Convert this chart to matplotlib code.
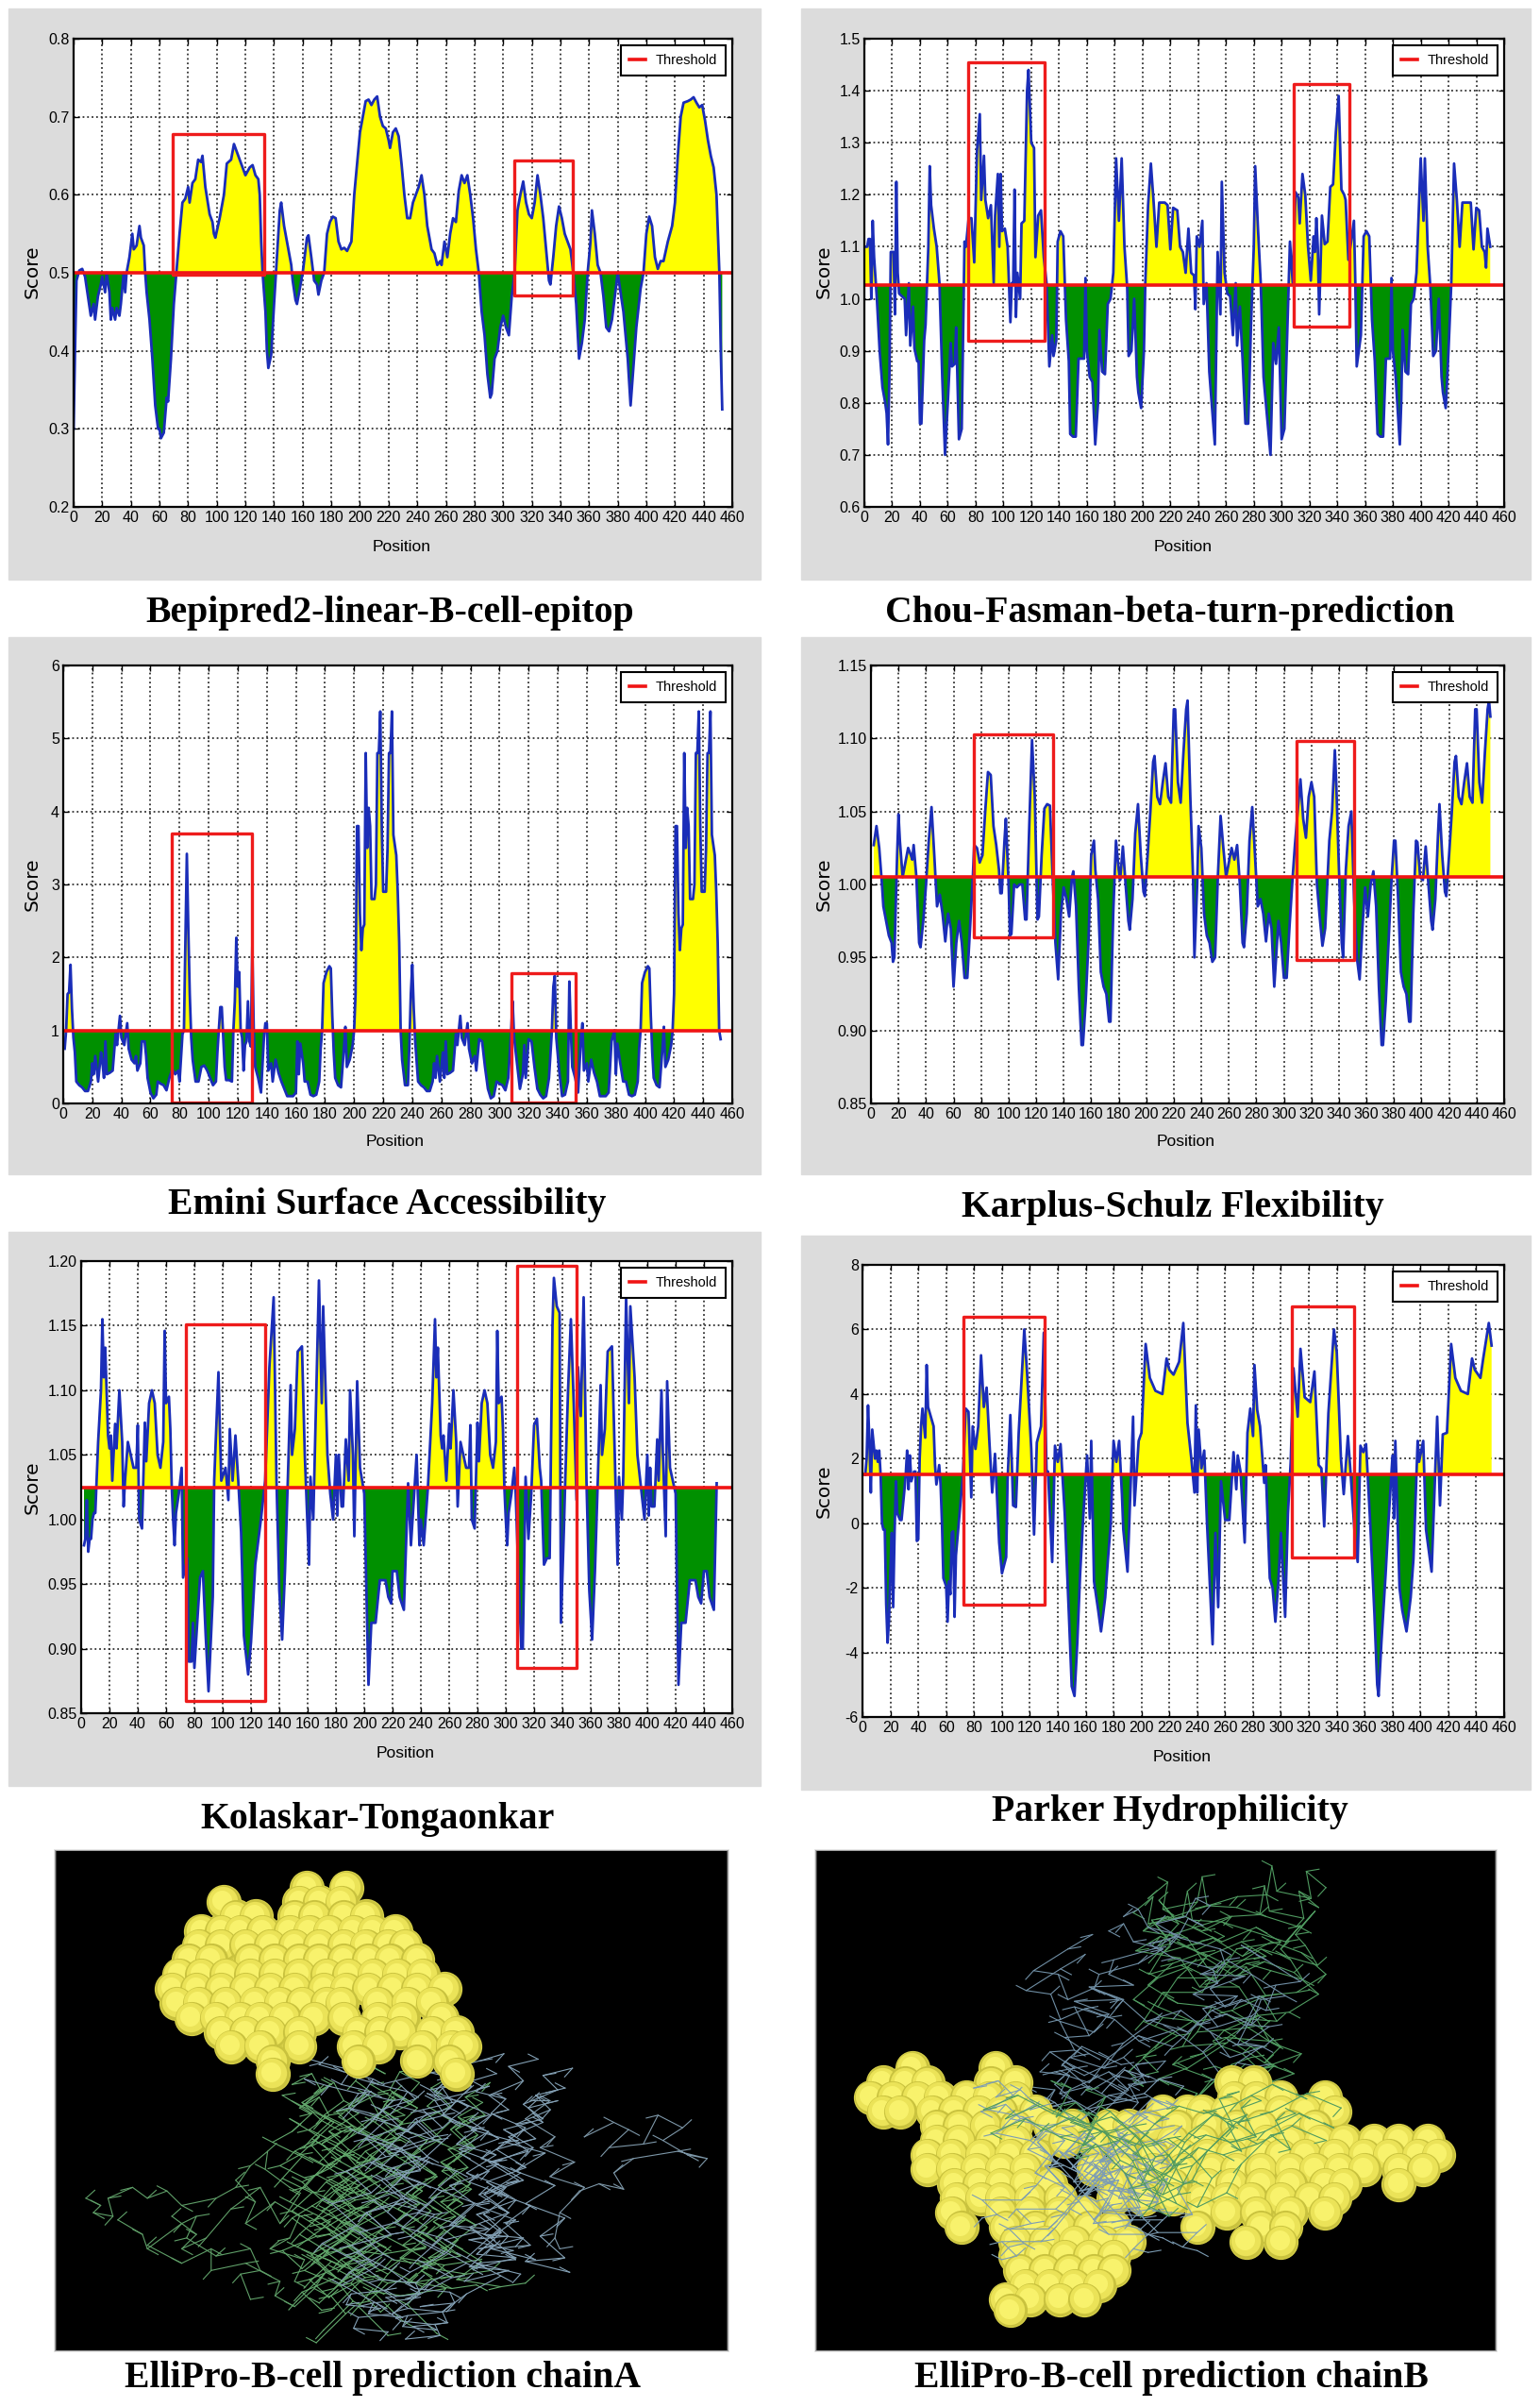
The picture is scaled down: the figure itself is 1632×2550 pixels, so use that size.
import numpy as np
import matplotlib
matplotlib.use('Agg')
import matplotlib.pyplot as plt
from matplotlib.patches import Rectangle

plt.rcParams['font.family'] = ['Liberation Sans', 'DejaVu Sans']

W, H = 1632, 2550

# values, (position, score)
bepipred = [(0,.30),(1,.40),(2,.49),(4,.503),(6,.505),(8,.495),(10,.47),(12,.445),(14,.46),(15,.44),(17,.47),(19,.485),(20,.495),(22,.475),(23,.50),(25,.475),(26,.44),(27,.455),(29,.44),(30,.455),(32,.445),(33,.46),(35,.50),(36,.475),(37,.50),(39,.52),(41,.55),(42,.53),(44,.535),(46,.56),(47,.545),(49,.535),(50,.50),(51,.475),(53,.44),(55,.39),(57,.33),(59,.30),(60,.30),(61,.288),(63,.295),(65,.34),(66,.335),(68,.39),(70,.46),(72,.505),(74,.55),(76,.59),(78,.595),(80,.61),(81,.59),(83,.615),(85,.62),(87,.645),(89,.642),(90,.65),(92,.61),(95,.575),(97,.565),(98,.55),(99,.545),(102,.57),(105,.60),(107,.64),(110,.645),(112,.665),(115,.65),(118,.635),(120,.625),(123,.635),(125,.638),(127,.625),(129,.62),(130,.60),(131,.54),(132,.50),(134,.45),(135,.40),(136,.378),(138,.395),(140,.46),(142,.52),(144,.58),(145,.59),(147,.56),(149,.54),(152,.51),(153,.49),(155,.465),(156,.46),(158,.48),(160,.50),(162,.53),(163,.545),(164,.548),(166,.52),(168,.49),(170,.485),(171,.472),(173,.49),(175,.50),(177,.55),(179,.565),(181,.572),(183,.57),(185,.54),(187,.53),(189,.532),(191,.528),(194,.54),(196,.60),(198,.64),(200,.68),(202,.70),(204,.72),(206,.722),(208,.715),(210,.722),(212,.726),(214,.70),(216,.688),(218,.685),(220,.67),(221,.66),(223,.68),(225,.685),(227,.675),(229,.64),(231,.60),(233,.57),(235,.57),(237,.59),(239,.60),(241,.61),(243,.625),(245,.60),(247,.56),(249,.54),(250,.53),(252,.525),(254,.51),(256,.515),(257,.51),(259,.54),(261,.52),(263,.55),(265,.57),(267,.565),(269,.605),(271,.625),(273,.615),(275,.625),(277,.60),(279,.57),(281,.53),(283,.50),(285,.45),(287,.42),(289,.37),(291,.34),(292,.345),(294,.39),(296,.40),(298,.43),(300,.445),(302,.43),(304,.42),(306,.47),(308,.50),(310,.58),(312,.60),(314,.617),(316,.59),(318,.575),(320,.57),(322,.59),(324,.625),(326,.60),(328,.57),(330,.53),(332,.49),(333,.485),(335,.52),(337,.56),(339,.585),(341,.57),(343,.55),(345,.54),(347,.53),(349,.50),(351,.46),(353,.39),(355,.41),(357,.44),(359,.50),(361,.54),(362,.58),(364,.55),(366,.51),(368,.50),(370,.47),(372,.43),(374,.425),(376,.44),(378,.47),(380,.50),(384,.45),(387,.39),(389,.33),(391,.38),(393,.43),(396,.48),(398,.50),(400,.55),(402,.572),(404,.56),(406,.52),(408,.505),(410,.515),(412,.515),(415,.54),(418,.56),(420,.59),(422,.65),(424,.70),(426,.718),(429,.72),(431,.722),(433,.725),(435,.718),(437,.712),(439,.715),(441,.695),(443,.67),(445,.65),(447,.635),(449,.60),(451,.50),(452,.40),(453,.325)]

chou_fasman = [(0,1.10),(2,1.10),(3,1.115),(4,1.115),(5,1.00),(6,1.15),(7,1.08),(9,1.00),(11,.90),(13,.83),(15,.80),(16,.78),(17,.72),(18,.85),(19,1.09),(21,1.09),(22,.97),(23,1.225),(24,1.05),(25,1.01),(27,1.005),(29,1.0),(30,.93),(32,1.03),(33,.91),(35,.985),(36,.905),(38,.88),(39,.88),(40,.76),(41,.76),(43,.92),(44,.95),(46,1.10),(47,1.255),(48,1.18),(50,1.135),(52,1.10),(54,1.03),(56,.85),(58,.70),(60,.80),(62,.915),(63,.87),(65,.875),(66,.945),(68,.73),(70,.75),(72,1.11),(73,1.10),(75,1.155),(77,1.155),(79,1.07),(81,1.285),(83,1.355),(84,1.19),(86,1.275),(87,1.19),(89,1.155),(91,1.18),(93,1.03),(94,1.16),(96,1.24),(97,1.10),(98,1.24),(99,1.13),(101,1.135),(103,1.10),(105,.955),(106,1.03),(107,1.03),(108,1.21),(109,.965),(110,1.05),(112,1.00),(113,1.145),(115,1.15),(117,1.40),(118,1.44),(120,1.30),(122,1.29),(123,1.08),(125,1.16),(127,1.17),(129,1.08),(131,1.03),(133,.87),(135,.93),(136,.89),(138,.92),(139,1.11),(141,1.13),(143,1.12),(145,.96),(147,.88),(148,.74),(150,.735),(152,.735),(154,.885),(156,.885),(158,.885),(159,1.04),(160,.90),(162,.85),(164,.84),(166,.72),(168,.80),(169,.94),(171,.86),(173,.855),(175,.99),(177,1.0),(179,1.05),(181,1.27),(183,1.15),(185,1.27),(187,1.10),(189,1.02),(190,.89),(192,.90),(194,1.0),(196,.85),(197,.82),(199,.79),(201,.90),(202,1.03),(204,1.18),(206,1.26),(208,1.185),(210,1.10),(212,1.185),(216,1.185),(218,1.18),(220,1.095),(222,1.175),(225,1.17),(227,1.10),(229,1.09),(231,1.05),(233,1.135),(235,1.05),(237,1.045),(238,.98),(239,1.12),(241,1.10),(243,1.15),(244,.99),(246,1.03),(248,.86),(250,.79),(252,.72),(254,1.09),(256,.97),(257,1.225),(259,1.05),(261,1.01),(263,1.005),(265,.93),(267,1.03),(268,.91),(270,.985),(272,.88),(274,.76),(276,.76),(278,.95),(280,1.10),(281,1.255),(283,1.135),(285,1.03),(287,.85),(292,.70),(294,.915),(296,.875),(298,.945),(300,.73),(302,.75),(306,1.11),(308,1.03),(310,1.205),(312,1.195),(313,1.145),(315,1.24),(317,1.20),(319,1.10),(321,1.035),(323,1.12),(324,1.09),(325,1.155),(326,1.10),(327,.97),(329,1.16),(331,1.105),(333,1.11),(335,1.215),(337,1.22),(339,1.32),(341,1.39),(343,1.21),(345,1.20),(346,1.19),(348,1.075),(350,1.11),(352,1.15),(353,1.03),(354,.87),(355,.89),(357,.93),(359,1.12),(361,1.13),(363,1.12),(365,.96),(367,.88),(369,.74),(371,.735),(373,.735),(375,.885),(378,.885),(379,1.04),(380,.90),(382,.85),(385,.72),(386,.80),(387,.94),(389,.86),(391,.855),(393,.99),(395,1.0),(397,1.05),(400,1.27),(402,1.15),(403,1.27),(405,1.10),(407,1.02),(409,.89),(411,.90),(413,1.0),(415,.85),(416,.82),(418,.79),(420,.90),(422,1.03),(424,1.26),(426,1.19),(428,1.10),(430,1.185),(436,1.185),(438,1.095),(440,1.175),(442,1.17),(444,1.10),(446,1.09),(447,1.06),(448,1.135),(450,1.10)]

emini = [(1,.75),(2,1.0),(3,1.5),(4,1.52),(5,1.9),(6,1.3),(7,.9),(8,.7),(9,.3),(11,.25),(13,.22),(15,.17),(17,.17),(19,.3),(20,.55),(21,.4),(22,.65),(24,.3),(26,.7),(27,.55),(28,.35),(29,.85),(30,.4),(32,.42),(34,.45),(36,.95),(37,.8),(39,1.2),(40,.9),(42,.8),(44,1.1),(45,.75),(47,.6),(49,.55),(50,.65),(51,.45),(53,.55),(54,.85),(56,.85),(57,.65),(58,.35),(60,.15),(62,.07),(64,.12),(65,.3),(67,.27),(69,.25),(71,.18),(73,.35),(75,.47),(77,.4),(79,.45),(80,.3),(82,.95),(83,1.0),(85,3.42),(86,2.4),(87,1.5),(88,.9),(89,.6),(91,.3),(93,.3),(95,.5),(97,.52),(99,.45),(101,.35),(103,.25),(105,.3),(106,.7),(107,1.0),(108,1.32),(109,1.32),(111,.5),(112,.32),(114,.32),(116,.3),(117,1.0),(118,1.4),(119,2.27),(120,1.6),(121,1.8),(122,1.0),(123,.9),(124,.45),(125,.8),(126,.85),(127,1.4),(128,.85),(129,.78),(130,2.15),(131,1.0),(132,.5),(134,.35),(136,.15),(138,.9),(139,1.1),(140,1.1),(141,.45),(143,.55),(144,.3),(146,.6),(148,.42),(150,.3),(152,.2),(154,.1),(156,.1),(158,.1),(160,.15),(161,.85),(162,.4),(163,.82),(165,.55),(166,.3),(168,.3),(170,.12),(172,.1),(174,.12),(176,.3),(177,.75),(178,1.0),(179,1.65),(181,1.8),(183,1.88),(184,1.85),(185,1.2),(186,.7),(187,.35),(189,.25),(191,.22),(193,.75),(194,1.05),(195,.5),(197,.6),(199,.8),(200,1.0),(201,1.5),(202,3.8),(203,3.8),(204,2.6),(205,2.1),(206,2.4),(207,2.45),(208,4.8),(209,3.5),(210,4.05),(211,3.8),(212,2.8),(214,2.8),(215,3.0),(216,4.8),(217,4.8),(218,5.37),(219,3.8),(220,2.9),(222,2.9),(223,3.5),(224,4.8),(225,4.8),(226,5.37),(227,3.68),(229,3.4),(230,2.9),(231,2.2),(232,1.0),(233,.6),(235,.25),(237,.25),(238,.8),(239,1.5),(240,1.9),(241,1.3),(242,.85),(244,.3),(246,.25),(248,.22),(250,.17),(252,.17),(254,.3),(255,.55),(256,.35),(257,.65),(259,.3),(261,.7),(262,.35),(263,.85),(264,.4),(266,.42),(268,.45),(270,.95),(271,.8),(273,1.2),(274,.9),(276,.8),(278,1.1),(279,.75),(281,.55),(283,.65),(284,.45),(286,.88),(288,.85),(290,.5),(292,.2),(294,.07),(296,.1),(298,.3),(300,.27),(302,.25),(304,.18),(306,.35),(308,1.0),(309,1.4),(310,.9),(312,.55),(314,.2),(316,.4),(317,.8),(318,.35),(320,.88),(322,.85),(324,.5),(326,.2),(328,.12),(330,.07),(332,.1),(334,.35),(336,1.0),(337,1.6),(338,1.75),(339,.9),(341,.45),(343,.1),(345,.12),(347,.3),(348,1.67),(349,1.0),(350,.5),(352,.35),(354,.15),(356,.9),(357,1.1),(358,.45),(360,.55),(361,.3),(363,.6),(365,.42),(367,.3),(369,.1),(373,.1),(375,.15),(377,.85),(379,1.0),(380,.4),(381,.82),(383,.55),(385,.3),(387,.3),(389,.12),(391,.1),(393,.12),(395,.3),(396,.75),(397,1.0),(398,1.65),(400,1.8),(402,1.88),(403,1.85),(404,1.2),(405,.7),(406,.35),(408,.25),(410,.22),(412,.75),(413,1.05),(414,.5),(416,.6),(418,.8),(419,1.0),(420,1.5),(421,3.8),(422,3.8),(423,2.6),(424,2.1),(425,2.4),(426,2.45),(427,4.8),(428,3.5),(429,4.05),(430,3.8),(431,2.8),(433,2.8),(434,3.0),(435,4.8),(436,4.8),(437,5.37),(438,3.8),(439,2.9),(441,2.9),(442,3.5),(443,4.8),(444,4.8),(445,5.37),(446,3.68),(448,3.4),(449,2.9),(450,2.2),(451,1.0),(452,.88)]

karplus = [(2,1.027),(4,1.04),(6,1.025),(8,1.0),(9,.985),(11,.975),(13,.965),(15,.96),(16,.947),(17,.95),(19,1.02),(20,1.048),(21,1.03),(23,1.005),(25,1.015),(27,1.025),(29,1.02),(30,1.017),(31,1.027),(33,1.005),(35,.96),(36,.957),(38,.975),(40,1.0),(42,1.03),(44,1.053),(46,1.02),(48,.985),(50,.993),(52,.98),(54,.961),(56,.98),(58,.97),(60,.93),(62,.96),(64,.975),(66,.96),(68,.936),(70,.936),(72,.97),(74,1.005),(75,1.027),(77,1.025),(79,1.015),(81,1.02),(83,1.05),(85,1.077),(87,1.075),(89,1.04),(91,1.027),(93,1.01),(94,.994),(95,.994),(97,1.03),(98,1.045),(100,1.0),(101,.965),(102,.966),(104,1.0),(106,.998),(108,1.0),(110,1.0),(112,.976),(113,.976),(115,1.04),(117,1.099),(119,1.06),(121,.976),(122,.978),(124,1.02),(126,1.052),(128,1.055),(130,1.054),(132,1.005),(134,.96),(136,.935),(138,.98),(140,.998),(142,.99),(144,.978),(146,1.005),(147,1.009),(149,.985),(151,.93),(153,.89),(154,.89),(156,.92),(158,.96),(160,1.02),(162,1.03),(163,1.01),(165,.99),(167,.94),(169,.93),(171,.925),(173,.906),(174,.906),(176,.98),(178,1.03),(180,1.01),(181,1.003),(183,1.026),(185,1.0),(187,.975),(188,.969),(190,.99),(192,1.035),(194,1.055),(196,1.02),(198,.995),(199,.992),(201,1.02),(203,1.05),(205,1.084),(206,1.088),(208,1.06),(210,1.055),(212,1.07),(214,1.083),(216,1.06),(218,1.056),(220,1.12),(221,1.12),(223,1.07),(225,1.056),(227,1.09),(229,1.12),(230,1.126),(232,1.06),(234,1.005),(235,.95),(237,1.0),(238,1.04),(240,1.025),(242,.98),(244,.965),(246,.96),(248,.947),(250,.95),(252,1.005),(254,1.047),(256,1.025),(258,1.005),(260,1.015),(262,1.025),(264,1.017),(266,1.027),(268,1.0),(270,.96),(271,.957),(273,.98),(275,1.03),(277,1.053),(279,1.02),(281,.985),(283,.99),(285,.98),(287,.961),(289,.98),(291,.97),(293,.93),(295,.96),(296,.975),(298,.96),(300,.936),(302,.936),(304,.97),(306,1.0),(308,1.027),(310,1.05),(312,1.072),(314,1.045),(316,1.032),(318,1.06),(320,1.07),(322,1.06),(324,1.0),(326,.978),(328,.958),(330,.97),(333,1.03),(335,1.05),(337,1.092),(338,1.07),(340,1.01),(342,.96),(343,.95),(345,1.01),(347,1.04),(349,1.05),(351,.99),(353,.95),(355,.935),(357,.97),(359,.998),(361,.978),(363,1.0),(365,1.009),(367,.985),(369,.93),(371,.89),(372,.89),(374,.92),(376,.96),(378,1.0),(380,1.03),(381,1.03),(383,.99),(385,.94),(387,.93),(389,.925),(391,.906),(392,.906),(394,.98),(396,1.03),(397,1.029),(399,1.005),(401,1.003),(403,1.026),(405,1.0),(407,.975),(408,.969),(410,.99),(412,1.035),(413,1.055),(415,1.02),(417,.995),(418,.992),(420,1.02),(422,1.05),(424,1.084),(425,1.088),(427,1.06),(429,1.055),(431,1.07),(433,1.083),(435,1.06),(437,1.056),(439,1.12),(440,1.12),(442,1.07),(444,1.056),(446,1.09),(448,1.12),(449,1.126),(450,1.115)]

kolaskar = [(2,.98),(3,.985),(4,1.015),(5,.975),(6,.985),(7,.985),(8,1.0),(9,1.005),(10,1.005),(12,1.06),(14,1.10),(15,1.155),(16,1.11),(17,1.133),(19,1.065),(20,1.055),(21,1.065),(22,1.03),(24,1.074),(25,1.055),(27,1.10),(29,1.06),(30,1.01),(31,1.03),(33,1.06),(35,1.05),(37,1.04),(39,1.04),(40,1.073),(41,1.0),(43,.993),(45,1.075),(46,1.045),(48,1.09),(50,1.10),(52,1.09),(54,1.05),(56,1.04),(58,1.06),(59,1.146),(60,1.09),(62,1.095),(63,1.07),(64,1.025),(65,1.0),(66,.98),(67,1.005),(69,1.02),(71,1.04),(72,.955),(75,.97),(76,.89),(78,.89),(79,.92),(80,.885),(84,.955),(86,.96),(88,.91),(90,.867),(93,.94),(94,1.03),(97,1.114),(98,1.07),(99,1.03),(102,1.04),(104,1.015),(105,1.07),(107,1.03),(109,1.065),(111,1.03),(113,.99),(115,.91),(118,.88),(120,.905),(123,.965),(127,1.0),(130,1.03),(133,1.118),(136,1.172),(138,1.03),(140,.945),(142,.907),(144,.96),(146,1.03),(148,1.104),(149,1.05),(151,1.07),(153,1.13),(156,1.134),(158,1.05),(161,.965),(162,1.033),(164,1.0),(168,1.185),(170,1.09),(171,1.165),(174,1.05),(176,1.02),(178,1.0),(180,1.05),(181,1.003),(182,1.05),(184,1.01),(185,1.01),(187,1.062),(189,1.03),(190,1.1),(192,1.05),(193,.987),(195,1.107),(197,1.04),(200,1.02),(203,.872),(205,.92),(208,.92),(211,.953),(215,.953),(217,.94),(219,.935),(220,.96),(223,.96),(225,.94),(228,.93),(231,1.028),(233,.98),(237,1.05),(239,.98),(240,1.0),(242,.98),(245,1.025),(248,1.09),(250,1.155),(251,1.11),(252,1.133),(254,1.065),(255,1.055),(256,1.065),(258,1.03),(260,1.074),(261,1.055),(263,1.10),(265,1.06),(266,1.01),(268,1.06),(270,1.05),(272,1.04),(274,1.04),(275,1.073),(276,1.0),(278,.993),(280,1.075),(281,1.045),(283,1.09),(285,1.10),(287,1.09),(289,1.05),(291,1.04),(293,1.06),(294,1.146),(295,1.09),(297,1.095),(298,1.07),(299,1.025),(300,1.0),(301,.98),(302,1.005),(304,1.02),(306,1.04),(307,1.02),(309,.955),(311,.90),(312,.90),(314,1.033),(316,.985),(318,1.02),(320,1.073),(322,1.078),(324,1.04),(325,1.03),(327,.965),(329,.97),(331,.97),(333,1.15),(334,1.187),(336,1.165),(338,1.16),(339,.92),(341,.99),(342,1.03),(344,1.1),(346,1.155),(348,1.09),(350,1.015),(351,1.118),(353,1.08),(355,1.172),(357,1.03),(359,.945),(361,.907),(363,.96),(365,1.03),(367,1.104),(368,1.05),(370,1.07),(372,1.13),(375,1.134),(377,1.05),(379,.965),(380,1.033),(382,1.0),(383,1.033),(385,1.172),(387,1.09),(388,1.165),(391,1.11),(393,1.05),(396,1.02),(398,1.0),(400,1.05),(401,1.003),(402,1.04),(403,1.01),(405,1.01),(407,1.062),(408,1.03),(410,1.1),(411,1.05),(413,.987),(414,1.107),(416,1.04),(419,1.025),(420,1.02),(422,.872),(424,.92),(427,.92),(430,.953),(434,.953),(436,.94),(438,.935),(440,.96),(442,.96),(444,.94),(447,.93),(449,1.028)]

parker = [(2,1.5),(3,2.0),(4,3.65),(5,2.5),(6,.95),(7,2.9),(9,2.0),(10,2.25),(11,1.9),(12,2.25),(13,1.5),(14,0),(15,-.2),(16,-.2),(17,-2.5),(18,-3.7),(19,-3.0),(20,-1.5),(21,-.3),(22,-2.6),(23,-.3),(24,1.3),(25,.3),(27,.1),(28,.1),(30,1.0),(31,1.5),(32,2.25),(33,1.05),(34,2.1),(35,1.3),(37,1.6),(38,1.6),(39,-.55),(40,-.5),(41,2.0),(42,3.0),(43,3.55),(45,2.65),(46,4.9),(47,3.6),(49,3.3),(51,3.0),(52,1.8),(53,1.2),(55,1.8),(56,1.2),(57,0),(58,-1.7),(60,-1.95),(61,-3.05),(62,-1.8),(63,-2.2),(64,-.3),(65,-.25),(66,-2.9),(67,-1.0),(68,-.5),(70,.5),(72,1.5),(74,3.55),(76,3.45),(78,.8),(79,3.0),(81,2.3),(83,3.0),(85,5.2),(87,3.6),(89,4.2),(91,2.5),(93,.95),(95,2.15),(98,-.6),(100,-1.55),(103,-1.05),(104,1.3),(106,3.35),(108,.55),(110,.5),(112,2.8),(116,6.0),(118,4.65),(121,2.3),(123,-.35),(125,2.5),(128,3.0),(130,5.9),(132,1.5),(133,1.6),(136,-1.2),(138,2.4),(140,1.9),(142,2.45),(145,.3),(148,-2.85),(150,-5.05),(152,-5.35),(154,-3.7),(156,-1.6),(158,0),(161,2.1),(163,.15),(164,2.55),(166,-1.8),(169,-2.7),(171,-3.35),(174,-2.3),(176,-1.1),(178,0),(180,2.55),(182,1.9),(184,2.55),(186,.9),(187,-.2),(190,-1.5),(194,3.3),(195,.55),(198,2.55),(200,2.8),(203,5.55),(206,4.5),(210,4.1),(215,4.0),(218,5.1),(220,4.75),(223,4.6),(227,5.0),(230,6.2),(233,3.1),(236,1.9),(238,.95),(239,3.65),(240,.95),(241,2.9),(243,1.7),(245,2.25),(247,0),(251,-3.75),(253,-.3),(255,-2.6),(257,1.3),(260,.1),(263,.1),(266,2.2),(268,1.05),(269,2.1),(271,1.6),(274,-.6),(276,2.8),(278,3.55),(280,2.7),(281,4.9),(283,3.5),(285,3.0),(288,1.25),(289,1.8),(292,-1.7),(294,-2),(296,-3.05),(298,-1.9),(300,-.3),(303,-2.9),(305,.3),(307,1.9),(309,4.8),(312,3.3),(314,5.4),(317,3.9),(321,3.75),(324,4.7),(327,1.8),(329,1.7),(331,-.1),(334,3.4),(338,6.0),(340,5.3),(343,2.0),(345,.9),(348,2.7),(350,1.5),(353,-.4),(355,-1.2),(357,2.4),(359,2.2),(361,2.45),(364,0),(367,-2.8),(369,-5.0),(370,-5.35),(372,-3.7),(375,-1.6),(377,0),(380,2.1),(381,.15),(382,2.55),(385,-2),(387,-2.7),(390,-3.35),(393,-2.3),(395,-1.1),(398,2.55),(399,1.9),(402,2.55),(404,-.2),(408,-1.5),(412,3.3),(414,.55),(416,2.75),(419,2.8),(422,5.55),(425,4.5),(429,4.1),(434,4.0),(437,5.1),(439,4.75),(443,4.5),(445,5.1),(449,6.2),(451,5.5)]

position_ticks = list(range(0, 461, 20))
bepipred_ticks = [0.2, 0.3, 0.4, 0.5, 0.6, 0.7, 0.8]
chou_ticks = [0.6, 0.7, 0.8, 0.9, 1.0, 1.1, 1.2, 1.3, 1.4, 1.5]
emini_ticks = [0, 1, 2, 3, 4, 5, 6]
karplus_ticks = [0.85, 0.90, 0.95, 1.00, 1.05, 1.10, 1.15]
kolaskar_ticks = [0.85, 0.90, 0.95, 1.00, 1.05, 1.10, 1.15, 1.20]
parker_ticks = [-6, -4, -2, 0, 2, 4, 6, 8]

# threshold per method
thresholds = [0.5, 1.027, 1.0, 1.005, 1.025, 1.5]
# red boxes, (x0, x1, y0, y1) in data units
bepipred_boxes = [(69.3, 133, .498, .678), (308, 348.5, .471, .644)]
chou_boxes = [(74.3, 129.5, .92, 1.455), (308.6, 349, .947, 1.413)]
emini_boxes = [(74.7, 129.7, .015, 3.7), (308, 352, .015, 1.78)]
karplus_boxes = [(74.5, 132.3, .964, 1.103), (309.3, 351, .948, 1.098)]
kolaskar_boxes = [(74.3, 130, .8594, 1.151), (308, 349.7, .885, 1.196)]
parker_boxes = [(72.4, 130.5, -2.52, 6.4), (308, 352.5, -1.06, 6.72)]

# layout in pixels
panels = [
    dict(name='Bepipred2-linear-B-cell-epitop', data=bepipred, ticks=bepipred_ticks, fmt='%.1f', boxes=bepipred_boxes,
         gray=(9, 9, 806, 614), axes=(78, 41, 776, 537), score=(34, 288), pos=(426, 579), title=(413, 650)),
    dict(name='Chou-Fasman-beta-turn-prediction', data=chou_fasman, ticks=chou_ticks, fmt='%.1f', boxes=chou_boxes,
         gray=(849, 9, 1622, 614), axes=(916, 41, 1594, 537), score=(873, 288), pos=(1254, 579), title=(1240, 650)),
    dict(name='Emini Surface Accessibility', data=emini, ticks=emini_ticks, fmt='%d', boxes=emini_boxes,
         gray=(9, 675, 806, 1244), axes=(67, 705, 776, 1169), score=(34, 937), pos=(419, 1210), title=(410, 1277)),
    dict(name='Karplus-Schulz Flexibility', data=karplus, ticks=karplus_ticks, fmt='%.2f', boxes=karplus_boxes,
         gray=(849, 675, 1622, 1244), axes=(923, 705, 1594, 1169), score=(873, 937), pos=(1257, 1210), title=(1243, 1280)),
    dict(name='Kolaskar-Tongaonkar', data=kolaskar, ticks=kolaskar_ticks, fmt='%.2f', boxes=kolaskar_boxes,
         gray=(9, 1305, 806, 1892), axes=(86, 1336, 776, 1815), score=(34, 1576), pos=(430, 1857), title=(400, 1928)),
    dict(name='Parker Hydrophilicity', data=parker, ticks=parker_ticks, fmt='%d', boxes=parker_boxes,
         gray=(849, 1309, 1622, 1896), axes=(914, 1340, 1594, 1819), score=(873, 1580), pos=(1253, 1861), title=(1240, 1920)),
]

# sphere rows of the two surface views, {row y: [x, ...]} in crop units
spheres_a = {
    130: [625, 705], 170: [455, 610, 650, 695], 210: [480, 520, 600, 640, 700, 745],
    250: [410, 450, 490, 535, 590, 630, 670, 720, 760, 805],
    290: [405, 450, 500, 550, 600, 650, 700, 745, 790, 825],
    330: [385, 430, 510, 560, 610, 650, 700, 750, 795, 850],
    370: [365, 410, 460, 510, 560, 610, 665, 710, 760, 810, 860],
    410: [350, 400, 450, 500, 550, 600, 660, 705, 750, 800, 850, 905],
    450: [360, 405, 460, 520, 570, 615, 665, 695, 770, 830, 880],
    490: [390, 440, 490, 530, 580, 640, 700, 770, 820, 900],
    530: [450, 500, 550, 610, 730, 775, 815, 880, 930],
    570: [470, 530, 610, 720, 770, 860, 920, 945],
    610: [555, 730, 850, 915], 645: [555, 930],
}
spheres_b = {
    630: [290, 460], 670: [230, 275, 320, 450, 500, 940, 985],
    710: [205, 250, 300, 345, 400, 445, 500, 945, 990, 1040, 1130],
    750: [230, 265, 330, 375, 425, 470, 540, 800, 850, 880, 930, 990, 1040, 1090, 1150],
    790: [340, 385, 440, 500, 570, 615, 690, 730, 770, 830, 890, 950, 1000, 1060, 1110],
    830: [340, 385, 450, 500, 600, 660, 720, 820, 880, 950, 1010, 1060, 1120, 1170, 1230, 1280, 1340],
    870: [320, 370, 430, 490, 540, 720, 780, 840, 890, 940, 1000, 1040, 1090, 1150, 1210, 1260, 1320, 1360],
    910: [320, 370, 420, 470, 520, 660, 720, 780, 840, 900, 950, 1000, 1060, 1110, 1160, 1210, 1280, 1330],
    950: [375, 425, 470, 520, 570, 700, 760, 820, 890, 940, 1000, 1060, 1130, 1170, 1280],
    990: [380, 430, 470, 530, 590, 700, 760, 820, 880, 930, 980, 1040, 1100, 1150],
    1030: [370, 470, 530, 590, 640, 880, 930, 990, 1060, 1130],
    1070: [390, 480, 540, 590, 650, 700, 870, 1000, 1050],
    1110: [500, 560, 620, 680, 730, 970, 1040], 1150: [500, 550, 600, 650, 700],
    1190: [510, 560, 610, 660, 700], 1230: [520, 570, 620, 670], 1270: [480, 530, 590, 640], 1300: [490],
}

# wire traces in crop units
green_core_a = [
    [(640,700),(680,670),(700,720),(660,760),(720,800),(680,850),(740,900),(690,950),(760,1000),(700,1050),(770,1100),(720,1150),(790,1200),(760,1250),(820,1330)],
    [(620,730),(680,780),(640,830),(600,860),(660,900),(620,960),(680,1000),(640,1050),(700,1100),(650,1150),(720,1190),(680,1240)],
    [(800,700),(850,740),(810,790),(870,830),(830,880),(890,930),(840,980),(900,1030),(850,1080),(910,1130),(860,1180),(950,1200),(1000,1190)],
]
green_outer_a = [
    [(175,990),(205,1010),(190,1030),(230,1040),(220,990),(270,960),(300,990),(340,970),(370,1010),(440,990),(480,960),(510,900),(545,860),(540,910),(590,960)],
    [(240,1050),(290,1090),(300,1130),(370,1060),(400,1040),(380,1100),(440,1150),(510,1130),(530,1190),(490,1200),(510,1270)],
    [(300,1120),(370,1170),(430,1130),(430,1190),(500,1170),(570,1220),(560,1260),(600,1290),(640,1240),(660,1200)],
    [(480,940),(520,1000),(500,1060),(560,1000),(610,1040),(590,1100),(550,1130),(620,1160),(600,1220)],
    [(350,1040),(400,1090),(370,1130),(420,1100),(470,1020),(530,960),(570,1060),(610,980)],
]
blue_core_a = [
    [(650,620),(700,640),(760,660),(740,700),(800,720),(760,770),(830,800),(790,850),(860,880),(820,930),(900,970),(850,1030),(930,1060),(880,1120),(950,1170),(880,1220),(830,1270),(760,1280),(750,1310),(820,1320)],
    [(900,660),(960,680),(930,720),(1000,760),(960,800),(1040,830),(980,880),(1060,920),(1000,970),(1080,1010),(1030,1060),(1080,1120),(1000,1130),(1090,1160)],
]
blue_outer_a = [
    [(1080,720),(1120,720),(1070,770),(1130,820),(1100,850),(1170,890),(1120,930),(1190,960),(1140,1030),(1130,1100),(1140,1130)],
    [(1190,820),(1250,780),(1280,800),(1240,850),(1310,840),(1340,760),(1390,795),(1350,830),(1400,870),(1440,880),(1380,860),(1290,880),(1250,920),(1270,965),(1220,950),(1180,970)],
]
green_upper_b = [
    [(770,160),(810,115),(800,190),(870,170),(880,100),(890,180),(950,185),(1010,210),(1080,240),(1110,195),(1070,260),(1090,290),(1115,345),(1050,320),(1000,300),(940,350),(880,310),(820,340),(770,400),(830,450),(900,460),(870,530),(960,520),(880,590),(820,620),(900,660),(870,710),(940,620),(980,600)],
    [(860,240),(920,280),(990,240),(1040,280),(950,300),(910,380),(830,380),(790,460),(860,500),(800,550),(760,600),(790,640)],
]
blue_upper_b = [
    [(720,210),(750,190),(770,240),(830,260),(780,300),(700,330),(690,370),(740,400),(650,405),(720,440),(690,490),(620,460),(650,540),(600,545),(650,590),(610,600),(680,630),(720,560),(780,500),(850,530),(900,470),(960,440),(1010,470),(1030,400),(1080,390),(1010,330),(960,290)],
    [(550,640),(610,650),(590,700),(650,680),(700,720),(760,650),(720,600),(640,650)],
]
blue_lower_b = [
    [(460,710),(510,690),(540,730),(490,770),(560,790),(600,830),(570,880),(630,920),(590,860),(660,960),(690,1010),(720,1050),(800,1050),(770,1090),(800,1100)],
    [(640,820),(700,870),(660,930),(740,900),(710,990),(790,1000),(760,930)],
]
green_lower_b = [
    [(480,770),(550,730),(620,780),(690,810),(740,790),(790,840),(830,900),(800,980),(860,940),(890,860),(950,780),(990,820),(960,740),(1000,720)],
]
core_shifts = [(0, 0), (35, 25), (-30, 40), (50, -30), (-45, -25), (20, 60), (70, 35), (-20, -55)]
side_stubs = [(18, -22), (-20, -14), (22, 16), (-16, 24), (26, -6), (-24, 8)]


def px_axes(fig, x0, y0, x1, y1):
    return fig.add_axes([x0 / W, 1 - y1 / H, (x1 - x0) / W, (y1 - y0) / H])


def draw_panel(fig, p, threshold):
    x0, y0, x1, y1 = p['gray']
    fig.patches.append(Rectangle((x0 / W, 1 - y1 / H), (x1 - x0) / W, (y1 - y0) / H,
                                 transform=fig.transFigure, color='#dcdcdc', zorder=-1))
    ax = px_axes(fig, *p['axes'])
    pos, score = np.array(p['data'], dtype=float).T
    ax.fill_between(pos, score, threshold, where=score >= threshold, interpolate=True, color='#ffff00', lw=0, zorder=2)
    ax.fill_between(pos, score, threshold, where=score <= threshold, interpolate=True, color='#009000', lw=0, zorder=2)
    ax.plot(pos, score, color='#1a2db8', lw=2.0, zorder=3)
    ax.axhline(threshold, color='#f01414', lw=2.6, zorder=4, label='Threshold')
    for bx0, bx1, by0, by1 in p['boxes']:
        ax.add_patch(Rectangle((bx0, by0), bx1 - bx0, by1 - by0, fill=False, ec='#ee1c1c', lw=2.4, zorder=5, joinstyle='round'))

    ax.set_xlim(0, 460)
    ax.set_ylim(p['ticks'][0], p['ticks'][-1])
    ax.set_xticks(position_ticks)
    ax.set_yticks(p['ticks'])
    ax.set_yticklabels([p['fmt'] % t for t in p['ticks']])
    ax.tick_params(direction='in', length=4, width=1, top=True, right=True, labelsize=11.5, pad=3)
    ax.grid(True, linestyle=':', color='#303030', lw=1.3, zorder=1)
    ax.set_axisbelow(True)
    for spine in ax.spines.values():
        spine.set_linewidth(1.6)
        spine.set_zorder(6)

    leg = ax.legend(loc='upper right', fontsize=10.5, fancybox=False, edgecolor='black', framealpha=1,
                    handlelength=1.2, handletextpad=0.7, borderpad=0.6, borderaxespad=0.5)
    leg.get_frame().set_linewidth(1.5)
    leg.set_zorder(7)

    fig.text(p['score'][0] / W, 1 - p['score'][1] / H, 'Score', rotation=90, ha='center', va='center',
             fontsize=14.5, family='DejaVu Sans')
    fig.text(p['pos'][0] / W, 1 - p['pos'][1] / H, 'Position', ha='center', va='center', fontsize=12.5)
    fig.text(p['title'][0] / W, 1 - p['title'][1] / H, p['name'], ha='center', va='center', fontsize=28.6,
             family='Liberation Serif', fontweight='bold')


def draw_wires(ax, traces, color, shifts=((0, 0),), lw=0.8, z=3):
    for trace in traces:
        xs, ys = np.array(trace, dtype=float).T
        mid = xs.mean()
        for k, (dx, dy) in enumerate(shifts):
            # every other copy runs mirrored so the copies cross instead of hatching
            xk = xs + dx if k % 2 == 0 else 2 * mid - xs + dx
            yk = ys + dy
            ax.plot(xk, yk, color=color, lw=lw, zorder=z)
            for i in range(len(xk)):
                sx, sy = side_stubs[(i + k) % len(side_stubs)]
                ax.plot([xk[i], xk[i] + sx], [yk[i], yk[i] + sy], color=color, lw=lw, zorder=z)


def draw_spheres(ax, rows, z=4):
    xs = [x for y in rows for x in rows[y]]
    ys = [y for y in rows for x in rows[y]]
    ax.scatter(xs, ys, s=720, color='#d9d24a', lw=0, zorder=z)
    z += 0.01
    for y in sorted(rows):
        for x in rows[y]:
            ax.scatter(x, y, s=640, color='#c9c23e', lw=0, zorder=z)
            ax.scatter(x - 1, y - 2, s=510, color='#ebe358', lw=0, zorder=z)
            ax.scatter(x - 3, y - 5, s=230, color='#f8f26c', lw=0, zorder=z)
            z += 0.001


def draw_view(fig, crop, frame):
    ax = px_axes(fig, *crop)
    ax.set_xlim(0, 1568)
    ax.set_ylim(1568, 0)
    ax.axis('off')
    x0, y0, x1, y1 = frame
    for grow, shade in ((6, '#e4e4e4'), (4, '#a0a0a0'), (2, '#404040'), (0, '#000000')):
        ax.add_patch(Rectangle((x0 - grow, y0 - grow), x1 - x0 + 2 * grow, y1 - y0 + 2 * grow, color=shade, lw=0, zorder=1))
    return ax


fig = plt.figure(figsize=(W / 100, H / 100), dpi=100, facecolor='white')

for p, th in zip(panels, thresholds):
    draw_panel(fig, p, th)

# surface view, chain A
ax_a = draw_view(fig, (0, 1950, 816, 2550), (115, 30, 1480, 1410))
draw_wires(ax_a, green_outer_a, '#5f9f68')
draw_wires(ax_a, green_core_a, '#62a86c', core_shifts)
draw_wires(ax_a, blue_outer_a, '#7d97a8')
draw_wires(ax_a, blue_core_a, '#83a0b4', core_shifts)
draw_spheres(ax_a, spheres_a)
fig.text(405 / W, 1 - 2520 / H, 'ElliPro-B-cell prediction chainA', ha='center', va='center', fontsize=28.6,
         family='Liberation Serif', fontweight='bold')

# surface view, chain B
ax_b = draw_view(fig, (816, 1950, 1632, 2550), (97, 30, 1475, 1410))
draw_wires(ax_b, green_upper_b, '#4f9a60', core_shifts[:4])
draw_wires(ax_b, blue_upper_b, '#6f8ea4', core_shifts[:4])
draw_spheres(ax_b, spheres_b)
draw_wires(ax_b, blue_lower_b, '#7d9db4', core_shifts, z=6)
draw_wires(ax_b, green_lower_b, '#4f9a60', core_shifts, z=6)
fig.text(1241 / W, 1 - 2519 / H, 'ElliPro-B-cell prediction chainB', ha='center', va='center', fontsize=28.6,
         family='Liberation Serif', fontweight='bold')

fig.savefig('out.png', dpi=100)
